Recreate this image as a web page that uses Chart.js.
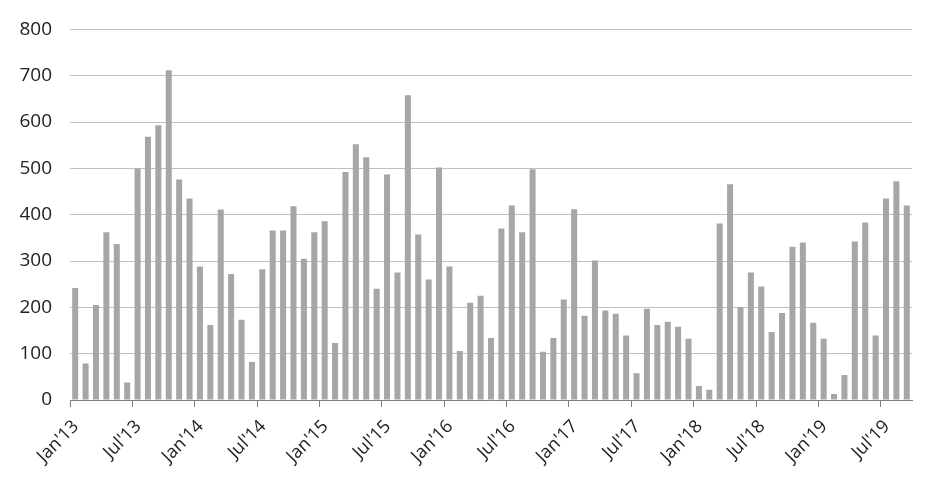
<!DOCTYPE html>
<html lang="en">
<head>
    <meta charset="UTF-8">
    <title>Monthly chart</title>
    <script src="https://cdn.jsdelivr.net/npm/chart.js"></script>
    <style>
        html, body {
            margin: 0;
            padding: 0;
            background: #ffffff;
        }
        .chart-container {
            width: 952px;
            height: 491px;
        }
    </style>
</head>
<body>
    <div class="chart-container">
        <canvas id="barChart"></canvas>
    </div>

    <script>
        // Jan'13 .. Sep'19, one value per month
        const tickLabels = ["Jan'13", "Jul'13", "Jan'14", "Jul'14", "Jan'15", "Jul'15", "Jan'16",
            "Jul'16", "Jan'17", "Jul'17", "Jan'18", "Jul'18", "Jan'19", "Jul'19"];

        const values2013 = [242, 79, 205, 362, 337, 38, 500, 568, 593, 712, 476, 435];
        const values2014 = [288, 162, 411, 272, 173, 82, 282, 366, 366, 418, 305, 362];
        const values2015 = [386, 123, 492, 552, 524, 240, 487, 275, 658, 357, 260, 502];
        const values2016 = [288, 106, 210, 225, 134, 370, 420, 362, 498, 104, 134, 217];
        const values2017 = [412, 182, 301, 193, 186, 139, 58, 197, 162, 169, 158, 132];
        const values2018 = [30, 22, 381, 466, 201, 275, 245, 147, 188, 331, 340, 167];
        const values2019 = [132, 13, 54, 342, 383, 139, 435, 472, 420];

        const values = [].concat(values2013, values2014, values2015, values2016,
            values2017, values2018, values2019);

        // bars sit between the month boundaries
        const points = values.map((v, i) => ({ x: i + 0.5, y: v }));

        const ctx = document.getElementById('barChart').getContext('2d');
        new Chart(ctx, {
            type: 'bar',
            data: {
                datasets: [{
                    data: points,
                    backgroundColor: '#a6a6a6',
                    borderWidth: 0,
                    barPercentage: 0.58,
                    categoryPercentage: 1
                }]
            },
            options: {
                responsive: true,
                maintainAspectRatio: false,
                animation: false,
                layout: {
                    padding: { top: 29, right: 40, left: 0, bottom: 0 }
                },
                plugins: {
                    legend: { display: false },
                    tooltip: { enabled: false }
                },
                scales: {
                    x: {
                        type: 'linear',
                        offset: false,
                        min: 0,
                        max: values.length,
                        afterBuildTicks: (scale) => {
                            scale.ticks = tickLabels.map((_, i) => ({ value: i * 6 }));
                        },
                        afterFit: (scale) => { scale.height = 91; },
                        ticks: {
                            autoSkip: false,
                            maxRotation: 45,
                            minRotation: 45,
                            padding: 9,
                            labelOffset: 6,
                            color: '#222222',
                            font: { family: 'Open Sans', size: 18 },
                            callback: (value) => tickLabels[value / 6]
                        },
                        grid: {
                            offset: false,
                            drawOnChartArea: false,
                            drawTicks: true,
                            tickLength: 7,
                            color: '#808080'
                        },
                        border: { display: true, color: '#808080', width: 1 }
                    },
                    y: {
                        min: 0,
                        max: 800,
                        afterFit: (scale) => { scale.width = 70; },
                        ticks: {
                            stepSize: 100,
                            padding: 18,
                            color: '#222222',
                            font: { family: 'Open Sans', size: 19 }
                        },
                        grid: {
                            color: '#c0c0c0',
                            drawTicks: false
                        },
                        border: { display: false }
                    }
                }
            }
        });
    </script>
</body>
</html>
